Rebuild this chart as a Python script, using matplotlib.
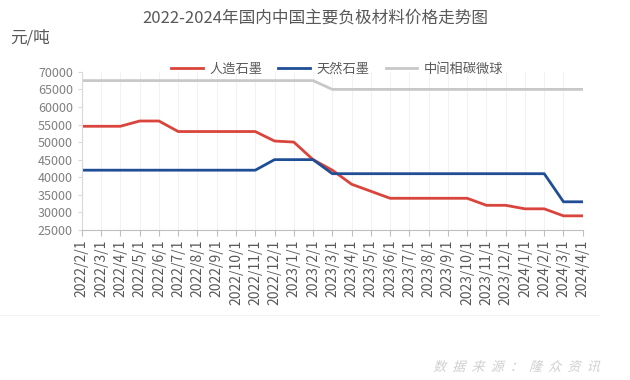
import numpy as np
import matplotlib
matplotlib.use('Agg')
import matplotlib.pyplot as plt
from matplotlib.textpath import TextPath
from matplotlib.patches import PathPatch
from matplotlib.font_manager import FontProperties
from matplotlib.transforms import Affine2D, IdentityTransform

plt.rcParams['font.family'] = ['Noto Sans CJK SC', 'DejaVu Sans']

months = ['2022/2/1', '2022/3/1', '2022/4/1', '2022/5/1', '2022/6/1', '2022/7/1',
          '2022/8/1', '2022/9/1', '2022/10/1', '2022/11/1', '2022/12/1', '2023/1/1',
          '2023/2/1', '2023/3/1', '2023/4/1', '2023/5/1', '2023/6/1', '2023/7/1',
          '2023/8/1', '2023/9/1', '2023/10/1', '2023/11/1', '2023/12/1', '2024/1/1',
          '2024/2/1', '2024/3/1', '2024/4/1']

artificial = [54500, 54500, 54500, 56000, 56000, 53000, 53000, 53000, 53000, 53000,
              50300, 50000, 45000, 42000, 38000, 36000, 34000, 34000, 34000, 34000,
              34000, 32000, 32000, 31000, 31000, 29000, 29000]
natural = [42000, 42000, 42000, 42000, 42000, 42000, 42000, 42000, 42000, 42000,
           45000, 45000, 45000, 41000, 41000, 41000, 41000, 41000, 41000, 41000,
           41000, 41000, 41000, 41000, 41000, 33000, 33000]
mcmb = [67500] * 13 + [65000] * 14

source = '数据来源：隆众资讯'

x = np.arange(len(months))

fig = plt.figure(figsize=(6.3, 3.8), dpi=100)
ax = fig.add_axes([0.130, 0.395, 0.795, 0.416])

ax.plot(x, artificial, color='#d9443c', lw=2, label='人造石墨')
ax.plot(x, natural, color='#1f4e96', lw=2, label='天然石墨')
ax.plot(x, mcmb, color='#c8c8c8', lw=2, label='中间相碳微球')

ax.set_xlim(0, len(months) - 1)
ax.set_ylim(25000, 70000)
ax.set_yticks(np.arange(25000, 70001, 5000))
ax.set_xticks(x)
ax.set_xticklabels(months, rotation=90, fontsize=10, color='#595959')
ax.tick_params(axis='y', labelsize=9, labelcolor='#808080', color='#d9d9d9', length=3)
ax.tick_params(axis='x', color='#bfbfbf', length=4, pad=3)

for s in ['top', 'right']:
    ax.spines[s].set_visible(False)
ax.spines['left'].set_color('#d9d9d9')
ax.spines['bottom'].set_color('#bfbfbf')
ax.grid(axis='x', color='#f2f2f2', lw=0.8)
ax.set_axisbelow(True)

ax.legend(loc='center', bbox_to_anchor=(0.51, 1.015), ncol=3, frameon=False,
          fontsize=9.5, labelcolor='#595959', handlelength=2.4, columnspacing=1.2,
          handletextpad=0.5)

fig.text(0.5, 0.953, '2022-2024年国内中国主要负极材料价格走势图', ha='center', va='center',
         fontsize=12, color='#595959')
fig.text(0.016, 0.9, '元/吨', ha='left', va='center', fontsize=12, color='#595959')
fig.add_artist(plt.Line2D([0.0, 0.95], [0.17, 0.17], color='#f2f2f2', lw=0.8))

# slanted, spaced-out source note (pixel coordinates)
fp = FontProperties(family='Noto Sans CJK SC')
for i, ch in enumerate(source):
    tp = TextPath((0, 0), ch, size=13, prop=fp)
    tr = Affine2D().skew_deg(16, 0).translate(433 + i * 19.2, 380 - 371)
    fig.add_artist(PathPatch(tr.transform_path(tp), transform=IdentityTransform(),
                             facecolor='#cfcfcf', edgecolor='none'))

fig.savefig('out.png', dpi=100)
